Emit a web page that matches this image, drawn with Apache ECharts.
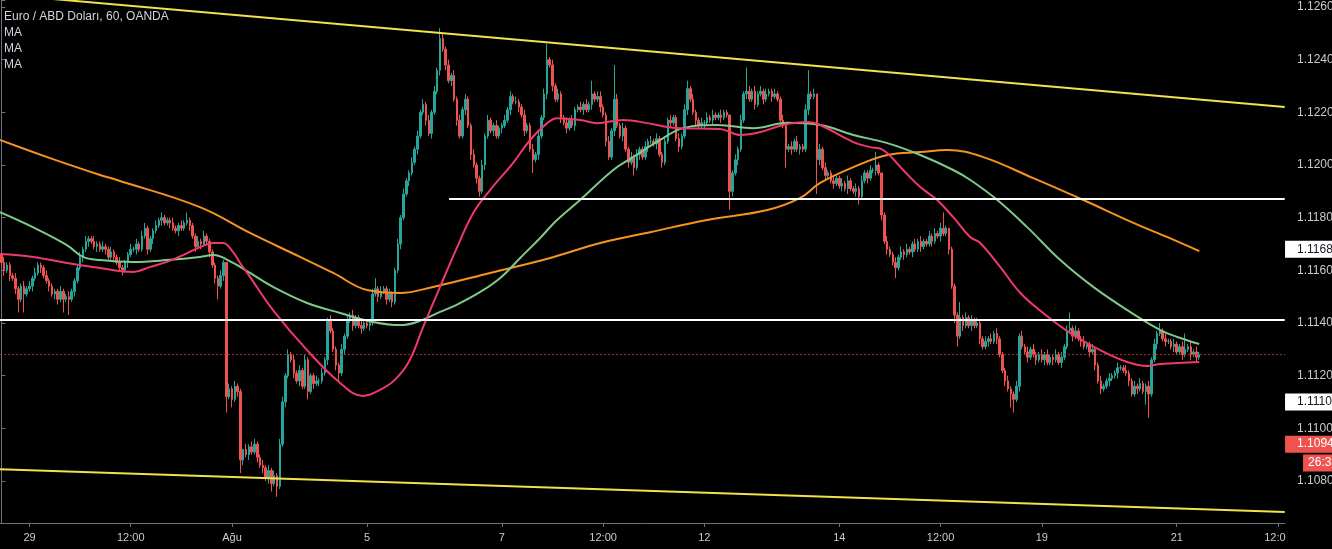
<!DOCTYPE html>
<html><head><meta charset="utf-8">
<script src="https://cdn.jsdelivr.net/npm/echarts@6/dist/echarts.min.js"></script>
<style>html,body{margin:0;padding:0;background:#000;}#c{width:1332px;height:549px;}</style>
</head><body><div id="c"></div><script>
// Prices are stored in pips (0.0001) above base 1.1000
const base = 1.1, pip = 0.0001;
const firstOpen = 166;
const closes = [
163,160,162,158,157,153,149,154,151,153,
154,157,159,162,161,158,156,154,151,152,
149,152,149,150,149,152,156,161,165,168,
171,172,171,169,170,168,169,168,165,167,
165,163,161,160,163,166,168,168,170,168,
173,176,168,172,175,177,179,180,178,179,
178,176,175,177,176,178,179,177,173,169,
171,170,173,171,167,162,157,154,158,163,
112,115,111,116,114,88,92,90,93,91,
94,89,86,85,81,84,79,82,78,94,
110,120,128,126,121,118,122,116,126,114,
120,117,118,118,121,126,141,137,130,124,
121,130,135,141,143,139,142,139,138,140,
139,140,151,153,150,152,153,149,151,148,
160,170,180,189,194,197,201,206,211,220,
223,217,212,220,228,236,248,244,238,232,
234,225,217,211,221,225,215,204,200,195,
190,200,211,217,213,215,211,214,215,217,
221,226,224,224,222,219,213,215,206,202,
204,211,218,227,240,238,230,225,227,218,
216,214,217,215,221,222,221,223,221,223,
227,225,226,222,219,209,203,213,225,215,
211,214,206,201,203,199,204,206,203,207,
209,209,208,210,204,201,209,217,216,218,
210,207,211,221,229,225,220,217,215,216,
216,218,217,219,218,219,218,220,219,190,
197,202,206,217,227,228,225,228,223,227,
228,225,227,228,226,227,225,217,215,206,
207,206,209,206,207,206,221,227,226,227,
202,206,199,196,197,194,193,195,192,193,
191,194,191,190,191,188,194,197,195,198,
198,200,197,181,171,168,166,163,161,165,
167,166,168,167,170,168,171,169,171,170,
173,171,174,173,176,174,176,168,154,143,
135,142,139,142,139,141,139,140,134,131,
133,134,133,136,134,128,122,118,115,113,
111,116,135,131,129,127,130,128,126,128,
126,128,125,127,126,128,125,127,131,137,
138,135,137,134,133,131,132,129,130,124,
118,115,116,118,119,120,121,123,123,122,
121,118,113,116,115,117,114,116,113,126,
132,136,137,134,133,133,131,132,129,131,
128,130,131,128,129,127,128];
const upperWick = [
1,2,1,1,1,2,1,1,2,1, 2,1,2,1,1,1,2,1,1,1, 1,2,1,1,2,1,1,1,2,1, 2,1,1,2,1,1,2,1,1,2,
1,1,2,1,1,1,2,1,2,1, 2,2,1,1,1,2,1,2,1,1, 1,2,1,1,2,1,3,1,1,1, 2,1,2,1,1,1,1,1,2,1,
0,2,1,2,1,1,0,2,1,2, 2,1,1,2,1,2,1,2,1,2, 2,1,2,1,2,1,2,1,2,1, 1,1,2,1,2,1,1,2,1,1,
1,2,1,2,1,2,1,1,2,1, 1,1,2,4,1,2,1,1,2,1, 1,2,1,2,1,1,2,1,2,1, 2,1,2,1,2,1,4,2,1,2,
1,2,1,2,1,2,1,1,2,1, 1,2,1,2,1,1,2,1,1,2, 1,2,1,2,1,1,2,1,1,2, 1,2,1,2,6,1,2,1,2,1,
1,2,1,2,1,1,2,1,2,1, 5,1,2,2,1,1,2,1,13,2, 1,2,1,1,2,1,2,1,1,2, 1,2,1,2,1,1,2,1,2,1,
1,2,1,2,3,1,2,1,1,2, 1,2,1,2,1,1,2,1,1,0, 1,2,1,2,1,9,2,1,2,1, 2,1,2,1,1,2,1,1,2,1,
1,2,1,2,1,1,2,9,1,2, 0,2,1,2,1,1,2,1,1,2, 1,2,1,1,2,1,2,1,1,2, 1,5,1,0,1,2,1,1,2,1,
2,1,2,1,1,2,1,2,1,1, 2,1,2,1,2,6,1,0,1,1, 1,6,1,2,1,2,1,2,1,1, 2,1,2,1,2,1,1,1,2,1,
1,2,1,2,1,2,1,2,1,1, 2,1,2,1,1,2,1,2,1,2, 6,1,2,1,1,2,1,1,2,1, 1,2,1,1,2,1,1,2,1,1,
2,1,1,2,1,2,1,1,2,1, 2,1,3,1,2,1,1,2,1,1, 2,6,1,2,1,2,1];
const lowerWick = [
1,2,1,2,1,2,5,1,7,1, 1,2,1,1,2,1,1,2,1,2, 2,1,5,1,6,1,2,1,1,2, 1,2,1,1,2,1,1,2,1,1,
2,1,1,2,1,2,1,1,2,1, 1,1,2,1,2,1,1,2,1,1, 2,1,1,2,1,1,1,2,1,2, 1,2,1,1,2,1,2,5,1,2,
6,1,3,1,2,5,2,1,2,1, 1,2,1,2,1,2,3,1,4,1, 1,2,1,1,2,1,2,1,1,3, 1,2,1,2,1,1,2,1,1,2,
3,1,2,1,1,2,1,1,2,1, 1,2,1,1,2,1,1,2,1,2, 1,1,2,1,1,2,1,1,2,1, 1,2,1,2,1,1,2,1,2,1,
2,1,2,1,1,2,1,2,1,2, 2,1,2,1,1,2,1,1,2,1, 1,2,1,1,2,1,2,1,1,5, 1,2,1,1,2,1,2,1,1,2,
1,2,1,1,2,1,1,2,1,1, 2,1,1,2,1,2,1,1,2,1, 1,2,1,2,1,3,1,2,1,1, 2,1,1,2,1,2,1,1,2,1,
1,2,1,1,2,1,1,2,1,1, 2,1,1,2,1,1,2,1,1,7, 2,1,2,1,1,2,1,1,2,1, 1,2,1,1,2,1,1,2,1,7,
1,2,1,1,2,1,1,2,1,1, 13,2,1,2,1,1,2,1,1,2, 1,2,1,1,2,3,1,1,2,1, 1,2,1,2,1,2,1,1,4,1,
1,2,1,1,2,1,1,2,1,1, 1,2,1,1,2,1,1,2,1,3, 4,1,2,1,1,2,1,1,2,1, 1,2,1,1,2,1,1,2,1,5,
5,1,2,1,1,2,1,1,2,1, 1,2,1,1,2,1,1,2,1,1, 1,2,1,1,2,1,1,2,1,2, 1,2,1,1,2,1,1,2,1,1,
1,2,1,1,2,1,1,5,9,1, 1,2,1,1,2,1,1,2,1,1, 2,1,1,2,1,2,1];

// x axis: hourly slots (weekends removed), labels at slot indices
const slotCount = 457;
const xTickIdx  = [10, 46, 82, 130, 178, 214, 250, 298, 334, 370, 418, 454];
const xTickText = ['29', '12:00', 'Ağu', '5', '7', '12:00', '12', '14', '12:00', '19', '21', '12:00'];

// Moving averages [slot, pips]
const maRed = [[-0.5,166.2],[11.2,165.1],[23.3,162.8],[35.1,160.9],[46.8,159.4],[52.9,161.3],[58.9,163.2],[64.6,165.8],[70.6,168.8],[75.3,170.4],[78.8,170.4],[82.4,166.9],[84.9,162.8],[88.4,157.5],[96.6,144.9],[108.7,129.7],[120.5,117.2],[128.6,112.3],[135,114.8],[140,118.5],[145,125.5],[150,138.5],[156,153.7],[162.1,168.8],[167.8,181.8],[173.8,190.5],[182,200.8],[188,209.5],[194.1,215.9],[197.6,217.8],[205.8,217.1],[211.9,215.9],[221.1,217.1],[229.7,215.9],[236.8,214.4],[241.4,214.0],[255.6,213.7],[262.8,211.4],[269.9,212.5],[278,215.2],[286.6,216.3],[291.2,215.2],[303,208.7],[309,206.8],[313.6,205.7],[320.7,198.1],[326.8,191.6],[332.8,186.7],[338.5,180.2],[344.6,172.6],[348.1,170.4],[355.2,161.3],[362.4,151.4],[370.5,143.8],[380.1,136.2],[390.8,129.7],[400.4,125.2],[407.5,123.7],[412.2,124.4],[426,125.2]];
const maGreen = [[-0.5,182.1],[11.2,176.4],[23.3,169.6],[29,165.1],[35.1,163.9],[46.8,163.2],[58.9,163.9],[70.6,165.1],[75.3,165.8],[82.4,162.8],[88.4,159.0],[96.6,153.7],[108.7,147.6],[120.5,143.8],[132.2,140.4],[141.8,139.2],[147.8,140.4],[156,144.2],[161.7,146.8],[170.3,151.8],[177.4,157.1],[184.5,164.7],[191.6,172.3],[197.6,179.1],[205.8,186.7],[217.6,198.1],[224.7,203],[234.3,209.5],[242.5,214],[254.6,215.2],[267.4,214],[279.5,216],[291.2,215.2],[303,211.4],[315.1,208.3],[326.8,203.8],[338.5,198.1],[344.6,194.3],[354.2,186.7],[364.8,176.4],[376.6,163.9],[388.3,153.7],[400.4,144.9],[412.2,137.3],[418.2,134.7],[426,132.0]];
const maOrange = [[-0.5,209.5],[17.3,202.6],[35.1,196.2],[41.1,194.3],[70.6,184.0],[88.4,174.2],[106.2,165.1],[118,159.0],[130.1,152.5],[141.8,151.4],[153.5,153.7],[173.8,159.0],[195.2,164.7],[213,170.4],[230.7,174.5],[251,179.1],[272.4,182.9],[284.1,187.5],[291.2,193.2],[303,199.2],[315.1,203.8],[326.8,204.9],[336.4,205.7],[349.2,203],[367,195],[384.8,186.7],[402.6,178],[414.7,172.6],[426,167.3]];

// Drawn lines [slot, pips]
const upperTrend = [[-0.5,264.8],[456.4,222.0]];
const lowerTrend = [[-0.5,84.5],[456.4,68.2]];
const resistance = [[159.2,187.1],[456.4,187.1]];
const support    = [[-0.5,141.1],[456.4,141.1]];
const lastPriceLine = [[-0.5,128],[456.5,128]];
// Price-scale boxes
const scaleLabelPrice = [1.1168, 1.1110, 1.1094, 1.10868];
const scaleLabelText  = ['1.1168', '1.1110', '1.1094', '26:31'];
const scaleLabelBg    = ['#ffffff', '#ffffff', '#ef5350', '#ef5350'];
const scaleLabelFg    = ['#131722', '#131722', '#ffffff', '#ffffff'];
const scaleLabelGap   = [0, 0, 0, 18];
const scaleLabelPadL  = [12, 12, 12, 5];

const toPrice = p => +(base + p * pip).toFixed(5);
const candleData = closes.map((c, i) => {
  const o = i === 0 ? firstOpen : closes[i - 1];
  const hi = Math.max(o, c) + upperWick[i];
  const lo = Math.min(o, c) - lowerWick[i];
  return [o, c, lo, hi].map(toPrice);
});
const pts = arr => arr.map(d => [d[0], toPrice(d[1])]);
const categories = Array.from({length: slotCount}, (_, i) => String(i));
const labelAt = {};
xTickIdx.forEach((k, j) => { labelAt[k] = xTickText[j]; });

const FONT = '"Liberation Sans", Arial, sans-serif';
const AXC = '#6f7380';
const yMax = 1.126266, yMin = 1.106405;

const lineSeries = (name, data, color, width, smooth, type) => ({
  name, type: 'line', xAxisIndex: 1, yAxisIndex: 0, data: pts(data),
  showSymbol: false, symbol: 'none', smooth: smooth, silent: true,
  lineStyle: {color, width, type: type || 'solid'}, z: 3
});

const chart = echarts.init(document.getElementById('c'), null, {renderer: 'canvas'});
chart.setOption({
  backgroundColor: '#000000',
  animation: false,
  textStyle: {fontFamily: FONT},
  title: {
    text: 'Euro / ABD Doları, 60, OANDA\nMA\nMA\nMA',
    left: 4, top: 9, padding: 0,
    textStyle: {color: '#d1d4dc', fontSize: 12, fontWeight: 'normal', lineHeight: 16, fontFamily: FONT}
  },
  grid: {left: 0, right: 47, top: 0, bottom: 26, containLabel: false, outerBoundsMode: 'none'},
  xAxis: [
    {
      type: 'category', data: categories, boundaryGap: true,
      axisLine: {show: true, lineStyle: {color: AXC}},
      axisTick: {show: true, alignWithLabel: true, length: 4, interval: (i) => labelAt[i] !== undefined, lineStyle: {color: AXC}},
      axisLabel: {interval: (i) => labelAt[i] !== undefined, formatter: (v, i) => labelAt[i] || '',
                  color: '#c9cbd1', fontSize: 11, margin: 9, fontFamily: FONT},
      splitLine: {show: false}
    },
    {type: 'value', min: -0.5, max: slotCount - 0.5, show: false}
  ],
  yAxis: {
    type: 'value', position: 'right', min: yMin, max: yMax, splitNumber: 10, scale: true,
    axisLine: {show: true, lineStyle: {color: AXC}},
    axisTick: {show: true, length: 4, lineStyle: {color: AXC}},
    axisLabel: {
      color: '#c9cbd1', fontSize: 12, margin: 12, fontFamily: FONT,
      formatter: v => { const k = v / 0.002; return Math.abs(k - Math.round(k)) < 1e-6 ? v.toFixed(4) : ''; }
    },
    splitLine: {show: false}
  },
  series: [
    lineSeries('last', lastPriceLine, '#b0302c', 1, false, [2, 2]),
    {
      type: 'candlestick', data: candleData, xAxisIndex: 0, yAxisIndex: 0,
      barWidth: 2,
      itemStyle: {color: '#26a69a', color0: '#ef5350', borderColor: '#26a69a', borderColor0: '#ef5350', borderWidth: 1},
      z: 2
    },
    lineSeries('MA1', maOrange, '#f7931e', 2, 0.4),
    lineSeries('MA2', maGreen, '#7fc98a', 2, 0.4),
    lineSeries('MA3', maRed, '#f0386b', 2, 0.4),
    lineSeries('upper', upperTrend, '#f2e34c', 2, false),
    lineSeries('lower', lowerTrend, '#f2e34c', 2, false),
    lineSeries('res', resistance, '#ffffff', 2, false),
    lineSeries('sup', support, '#ffffff', 2, false),
    {
      type: 'scatter', xAxisIndex: 1, yAxisIndex: 0, clip: false, silent: true, z: 10,
      symbol: 'circle', symbolSize: 0.1, itemStyle: {color: 'rgba(0,0,0,0)', opacity: 1},
      data: scaleLabelPrice.map((p, i) => ({
        value: [slotCount - 0.5, p],
        label: {show: true, position: 'right', distance: scaleLabelGap[i], formatter: scaleLabelText[i],
                backgroundColor: scaleLabelBg[i], color: scaleLabelFg[i], fontSize: 12, fontFamily: FONT,
                padding: [3, 6, 2, scaleLabelPadL[i]]}
      }))
    }
  ],
  graphic: [{type: 'rect', left: 1286, top: 524, shape: {width: 46, height: 25}, style: {fill: '#000'}, z: 100}]
});
</script></body></html>
